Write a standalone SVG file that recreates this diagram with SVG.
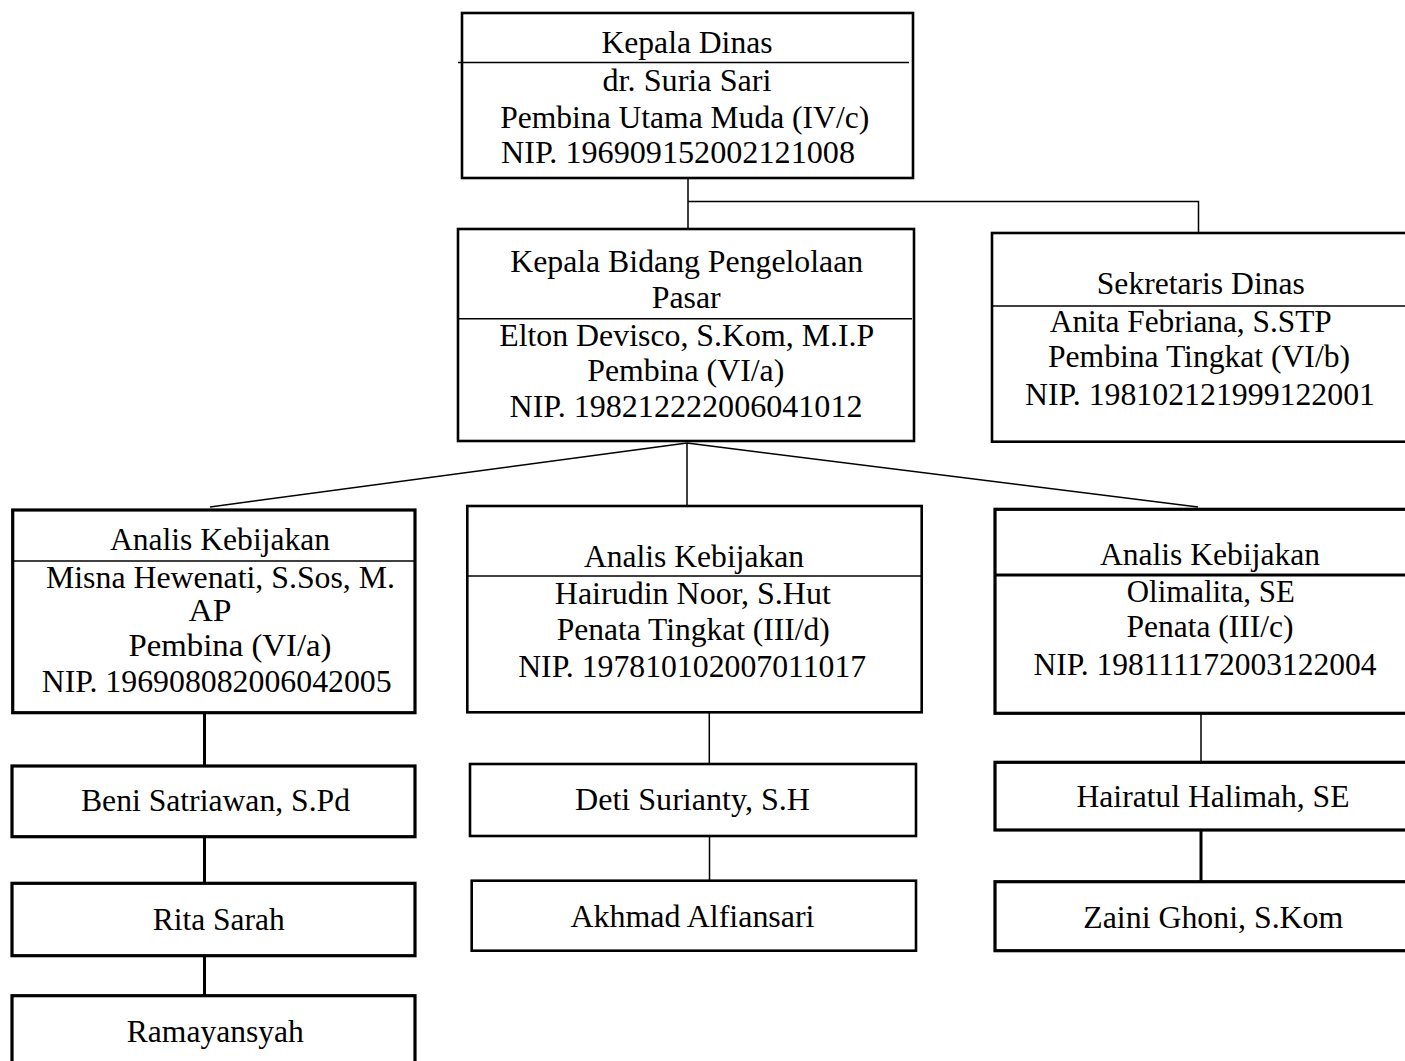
<svg xmlns="http://www.w3.org/2000/svg" width="1405" height="1061" viewBox="0 0 1405 1061">
<style>
.box{fill:#fff;stroke:#000;stroke-width:2.6}
.box2{fill:#fff;stroke:#000;stroke-width:3.2}
.div{stroke:#000;stroke-width:1.4;fill:none}
.c{stroke:#000;stroke-width:1.5;fill:none}
.ct{stroke:#000;stroke-width:3;fill:none}
text{font-family:"Liberation Serif","Times New Roman",serif;font-size:31.5px;fill:#000;text-anchor:middle}
</style>
<rect width="1405" height="1061" fill="#fff"/>
<g id="connectors">
<path class="c" d="M688 178 V229 M688 201.5 H1198.5 V233"/>
<path class="c" d="M687 443 L210 507 M687 443 V506 M687 443 L1198 507"/>
<path class="ct" d="M204.5 712.7 V766 M204.5 836.7 V883.3 M204.5 955.7 V995.7"/>
<path class="c" d="M709.3 712.3 V764 M709.5 836 V880.7"/>
<path class="c" d="M1201 713.3 V762.3"/>
<path class="ct" d="M1201 830 V881.7"/>
</g>
<g id="kepala-dinas">
<rect class="box" x="462" y="13" width="451" height="165"/>
<line class="div" x1="458" y1="62.5" x2="909" y2="62.5"/>
<text x="687" y="53" textLength="171" lengthAdjust="spacingAndGlyphs">Kepala Dinas</text>
<text x="687" y="91" textLength="169" lengthAdjust="spacingAndGlyphs">dr. Suria Sari</text>
<text x="684.7" y="128" textLength="369" lengthAdjust="spacingAndGlyphs">Pembina Utama Muda (IV/c)</text>
<text x="678" y="163" textLength="354" lengthAdjust="spacingAndGlyphs">NIP. 196909152002121008</text>
</g>
<g id="kepala-bidang">
<rect class="box" x="458" y="229" width="456" height="212"/>
<line class="div" x1="458" y1="318.7" x2="912" y2="318.7"/>
<text x="686.7" y="271.7" textLength="353" lengthAdjust="spacingAndGlyphs">Kepala Bidang Pengelolaan</text>
<text x="686.2" y="308" textLength="69" lengthAdjust="spacingAndGlyphs">Pasar</text>
<text x="686.7" y="345.7" textLength="375" lengthAdjust="spacingAndGlyphs">Elton Devisco, S.Kom, M.I.P</text>
<text x="685.8" y="380.7" textLength="197" lengthAdjust="spacingAndGlyphs">Pembina (VI/a)</text>
<text x="686" y="417" textLength="353" lengthAdjust="spacingAndGlyphs">NIP. 198212222006041012</text>
</g>
<g id="sekretaris">
<rect class="box" x="992" y="233" width="430" height="208.7"/>
<line class="div" x1="992" y1="306" x2="1410" y2="306"/>
<text x="1200.8" y="294" textLength="208" lengthAdjust="spacingAndGlyphs">Sekretaris Dinas</text>
<text x="1190.8" y="331.7" textLength="282" lengthAdjust="spacingAndGlyphs">Anita Febriana, S.STP</text>
<text x="1199" y="367" textLength="302" lengthAdjust="spacingAndGlyphs">Pembina Tingkat (VI/b)</text>
<text x="1200" y="405" textLength="350" lengthAdjust="spacingAndGlyphs">NIP. 198102121999122001</text>
</g>
<g id="analis-1">
<rect class="box2" x="12.7" y="510" width="402.3" height="202.7"/>
<line class="div" x1="12.7" y1="561" x2="415" y2="561"/>
<text x="220" y="550" textLength="220" lengthAdjust="spacingAndGlyphs">Analis Kebijakan</text>
<text x="220.5" y="588" textLength="349" lengthAdjust="spacingAndGlyphs">Misna Hewenati, S.Sos, M.</text>
<text x="210" y="621" textLength="43" lengthAdjust="spacingAndGlyphs">AP</text>
<text x="230" y="655.7" textLength="203" lengthAdjust="spacingAndGlyphs">Pembina (VI/a)</text>
<text x="216.7" y="691.7" textLength="350" lengthAdjust="spacingAndGlyphs">NIP. 196908082006042005</text>
</g>
<g id="analis-2">
<rect class="box" x="467.3" y="506" width="454.4" height="206.3"/>
<line class="div" x1="467.3" y1="576" x2="921.7" y2="576"/>
<text x="694" y="566.7" textLength="220" lengthAdjust="spacingAndGlyphs">Analis Kebijakan</text>
<text x="692.8" y="604" textLength="276" lengthAdjust="spacingAndGlyphs">Hairudin Noor, S.Hut</text>
<text x="693.3" y="640" textLength="273" lengthAdjust="spacingAndGlyphs">Penata Tingkat (III/d)</text>
<text x="692.2" y="676.7" textLength="348" lengthAdjust="spacingAndGlyphs">NIP. 197810102007011017</text>
</g>
<g id="analis-3">
<rect class="box2" x="995" y="509.3" width="430" height="204"/>
<line class="ct" x1="995" y1="575" x2="1410" y2="575"/>
<text x="1210" y="565" textLength="220" lengthAdjust="spacingAndGlyphs">Analis Kebijakan</text>
<text x="1210.8" y="601.7" textLength="168" lengthAdjust="spacingAndGlyphs">Olimalita, SE</text>
<text x="1210" y="636.7" textLength="167" lengthAdjust="spacingAndGlyphs">Penata (III/c)</text>
<text x="1205" y="675" textLength="343" lengthAdjust="spacingAndGlyphs">NIP. 198111172003122004</text>
</g>
<g id="beni">
<rect class="box2" x="12" y="766" width="403" height="70.7"/>
<text x="215.5" y="810.7" textLength="269" lengthAdjust="spacingAndGlyphs">Beni Satriawan, S.Pd</text>
</g>
<g id="rita">
<rect class="box2" x="12" y="883.3" width="403" height="72.4"/>
<text x="218.7" y="930" textLength="132" lengthAdjust="spacingAndGlyphs">Rita Sarah</text>
</g>
<g id="ramayansyah">
<rect class="box2" x="12" y="995.7" width="403" height="80"/>
<text x="215.3" y="1041.7" textLength="177" lengthAdjust="spacingAndGlyphs">Ramayansyah</text>
</g>
<g id="deti">
<rect class="box" x="470" y="764" width="446" height="72"/>
<text x="692.5" y="810" textLength="235" lengthAdjust="spacingAndGlyphs">Deti Surianty, S.H</text>
</g>
<g id="akhmad">
<rect class="box" x="471.7" y="880.7" width="444.3" height="70"/>
<text x="692.5" y="926.7" textLength="244" lengthAdjust="spacingAndGlyphs">Akhmad Alfiansari</text>
</g>
<g id="hairatul">
<rect class="box2" x="995" y="762.3" width="430" height="67.7"/>
<text x="1213" y="807.3" textLength="273" lengthAdjust="spacingAndGlyphs">Hairatul Halimah, SE</text>
</g>
<g id="zaini">
<rect class="box2" x="995" y="881.7" width="430" height="69"/>
<text x="1213.3" y="928.3" textLength="260" lengthAdjust="spacingAndGlyphs">Zaini Ghoni, S.Kom</text>
</g>
</svg>
